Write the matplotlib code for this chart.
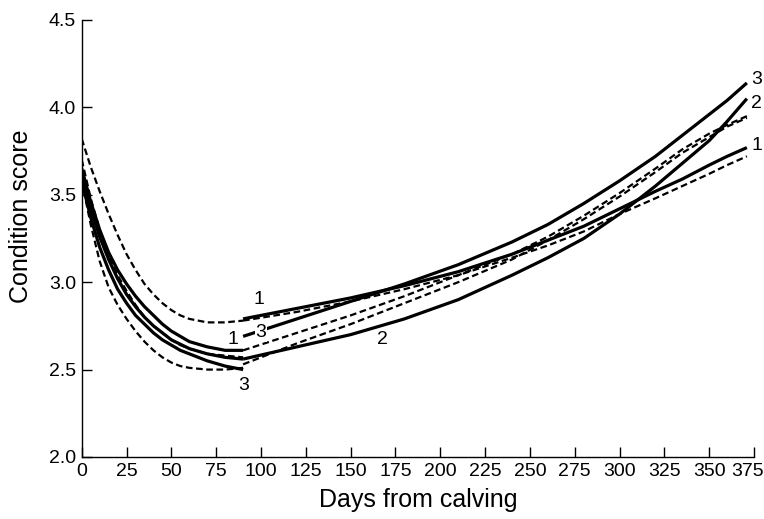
import matplotlib
matplotlib.use("Agg")
import matplotlib.pyplot as plt
import matplotlib.transforms as mtransforms

plt.rcParams['font.family'] = ['Liberation Sans', 'DejaVu Sans']

# ---- data ----
# Phase 1: days 0-90
days_p1 = [0, 5, 10, 15, 20, 25, 30, 35, 40, 45, 50, 55, 60, 70, 80, 90]
p1_solid_1 = [3.65, 3.46, 3.30, 3.17, 3.07, 2.99, 2.92, 2.86, 2.81, 2.76, 2.72, 2.69, 2.66, 2.63, 2.61, 2.61]
p1_solid_2 = [3.62, 3.42, 3.26, 3.13, 3.02, 2.93, 2.86, 2.80, 2.75, 2.71, 2.67, 2.645, 2.62, 2.59, 2.57, 2.56]
p1_solid_3 = [3.58, 3.37, 3.20, 3.07, 2.96, 2.88, 2.81, 2.76, 2.71, 2.67, 2.64, 2.61, 2.59, 2.55, 2.52, 2.50]
p1_dash_1 = [3.82, 3.66, 3.52, 3.39, 3.27, 3.16, 3.07, 2.99, 2.93, 2.88, 2.84, 2.81, 2.79, 2.77, 2.77, 2.78]
p1_dash_2 = [3.70, 3.48, 3.30, 3.15, 3.04, 2.95, 2.87, 2.80, 2.75, 2.71, 2.67, 2.64, 2.62, 2.59, 2.58, 2.57]
p1_dash_3 = [3.58, 3.33, 3.12, 2.97, 2.87, 2.79, 2.72, 2.66, 2.61, 2.57, 2.54, 2.52, 2.51, 2.50, 2.50, 2.51]

# Phase 2: days 90-371
days_p2 = [90, 120, 150, 180, 210, 240, 260, 280, 300, 320, 335, 350, 360, 371]
p2_solid_1 = [2.79, 2.85, 2.91, 2.98, 3.06, 3.16, 3.24, 3.32, 3.42, 3.52, 3.59, 3.67, 3.72, 3.77]
p2_solid_2 = [2.56, 2.63, 2.70, 2.79, 2.90, 3.04, 3.14, 3.25, 3.39, 3.55, 3.68, 3.81, 3.92, 4.05]
p2_solid_3 = [2.69, 2.79, 2.89, 2.99, 3.10, 3.23, 3.33, 3.45, 3.58, 3.72, 3.84, 3.96, 4.04, 4.14]
p2_dash_1 = [2.78, 2.83, 2.89, 2.96, 3.04, 3.14, 3.21, 3.29, 3.39, 3.48, 3.55, 3.62, 3.67, 3.72]
p2_dash_2 = [2.61, 2.71, 2.81, 2.92, 3.04, 3.16, 3.26, 3.38, 3.51, 3.65, 3.76, 3.85, 3.90, 3.95]
p2_dash_3 = [2.53, 2.65, 2.76, 2.88, 3.00, 3.13, 3.24, 3.36, 3.49, 3.63, 3.74, 3.83, 3.89, 3.94]

# curve labels: (text, day, score)
labels = [("1", 84.5, 2.67), ("3", 90.5, 2.41), ("1", 99, 2.90),
          ("2", 167.5, 2.67), ("3", 376.5, 4.16), ("2", 376.5, 4.02), ("1", 376.5, 3.78)]
inline_label = ("3", 100, 2.71)

x_ticks = list(range(0, 376, 25))
y_ticks = [2.0, 2.5, 3.0, 3.5, 4.0, 4.5]

# ---- figure ----
fig = plt.figure(figsize=(7.64, 5.19), dpi=100)
ax = fig.add_axes([0.107, 0.1195, 0.880, 0.842])

solid_kw = dict(color='black', lw=2.3, solid_capstyle='butt', solid_joinstyle='round')
dash_kw = dict(color='black', lw=1.6, linestyle=(0, (3, 1.6)), dash_capstyle='butt')

for s in (p1_solid_1, p1_solid_2, p1_solid_3):
    ax.plot(days_p1, s, **solid_kw)
for s in (p1_dash_1, p1_dash_2, p1_dash_3):
    ax.plot(days_p1, s, **dash_kw)
for s in (p2_solid_1, p2_solid_2, p2_solid_3):
    ax.plot(days_p2, s, **solid_kw)
for s in (p2_dash_1, p2_dash_2, p2_dash_3):
    ax.plot(days_p2, s, **dash_kw)

for t, d, v in labels:
    ax.text(d, v, t, fontsize=14, ha='center', va='center', zorder=5)
t, d, v = inline_label
ax.text(d, v, t, fontsize=14, ha='center', va='center', zorder=5,
        bbox=dict(facecolor='white', edgecolor='none', pad=0.5))

ax.set_xlim(0, 375)
ax.set_ylim(2.0, 4.5)
ax.set_xticks(x_ticks)
ax.set_yticks(y_ticks)
ax.set_yticklabels([f"{v:.1f}" for v in y_ticks])
ax.tick_params(direction='in', length=7, width=1, labelsize=14, pad=4)
for side in ('top', 'right'):
    ax.spines[side].set_visible(False)
for side in ('left', 'bottom'):
    ax.spines[side].set_linewidth(1)
ax.set_xlabel("Days from calving", fontsize=18, labelpad=6)
ax.set_ylabel("Condition score", fontsize=18)
ax.yaxis.set_label_coords(-0.073, 0.55)

# keep the last x tick label inside the figure
last = ax.get_xticklabels()[-1]
last.set_transform(last.get_transform() +
                   mtransforms.ScaledTranslation(-0.07, 0, fig.dpi_scale_trans))

fig.savefig("out.png", dpi=100)
